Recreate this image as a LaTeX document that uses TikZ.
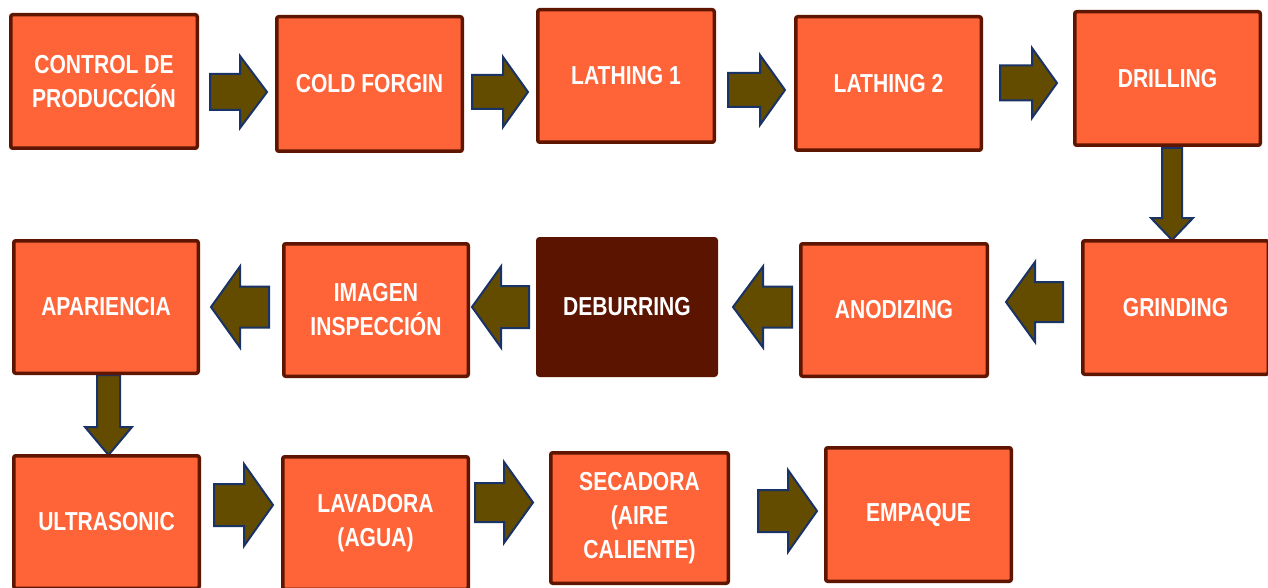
\documentclass[tikz,border=0pt]{standalone}
\usepackage{fontspec}
\setmainfont{Liberation Sans}[FakeStretch=0.81]
\definecolor{boxfill}{HTML}{FF6338}
\definecolor{boxline}{HTML}{5E1600}
\definecolor{darkbox}{HTML}{5A1400}
\definecolor{arrfill}{HTML}{634C00}
\definecolor{arrline}{HTML}{1A3366}
\tikzset{
  procbox/.style={draw=boxline, fill=boxfill, line width=3.5pt, rounded corners=2pt,
    inner sep=0pt, align=center, text=white,
    font=\fontsize{26}{34}\selectfont\bfseries},
  darkproc/.style={procbox, draw=darkbox, fill=darkbox},
  blockarrow/.style={draw=arrline, fill=arrfill, line width=2pt, line join=miter}
}
\newcommand\harr[6]{\draw[blockarrow] (#1,#3-#5) -- (#4,#3-#5) -- (#4,#3-#6) -- (#2,#3) -- (#4,#3+#6) -- (#4,#3+#5) -- (#1,#3+#5) -- cycle;}
\newcommand\varr[6]{\draw[blockarrow] (#1-#5,#2) -- (#1-#5,#4) -- (#1-#6,#4) -- (#1,#3) -- (#1+#6,#4) -- (#1+#5,#4) -- (#1+#5,#2) -- cycle;}
\begin{document}
\begin{tikzpicture}[x=1pt,y=-1pt]
\useasboundingbox (0,0) rectangle (1268,588);
\clip (0,0) rectangle (1268,588);
\fill[white] (0,0) rectangle (1268,588);
% arrows
\harr{210}{267}{92}{240}{18}{36}
\harr{472}{528}{92}{503}{17}{35}
\harr{728}{785}{90}{760}{17}{35}
\harr{1000}{1057}{83}{1032}{17.5}{35}
\varr{1172}{148}{240}{218}{10}{21}
\harr{1063}{1006}{302}{1035}{20}{40}
\harr{792}{733}{307}{763}{20.5}{40.5}
\harr{529}{472}{307}{501}{21}{40.5}
\harr{269}{211}{307}{240}{20.5}{40.5}
\varr{108.5}{375}{455}{427}{11.5}{23.5}
\harr{214}{273}{505}{244}{21}{41}
\harr{475}{533}{502.5}{504}{19.5}{40.5}
\harr{758}{817}{511}{788}{21}{41}
% boxes
\node[procbox, minimum width=186.5pt, minimum height=133.5pt] (ctrl) at (104,81.5) {CONTROL DE\\PRODUCCIÓN};
\node[procbox, minimum width=185.5pt, minimum height=134.5pt] (cold) at (369.5,84) {COLD FORGIN};
\node[procbox, minimum width=176.5pt, minimum height=132.5pt] (lat1) at (626,76) {LATHING 1};
\node[procbox, minimum width=185.5pt, minimum height=133.5pt] (lat2) at (888.5,83.5) {LATHING 2};
\node[procbox, minimum width=185.5pt, minimum height=133.5pt] (drill) at (1167.5,78.5) {DRILLING};
\node[procbox, minimum width=185.5pt, minimum height=133.5pt] (grind) at (1175.5,307.5) {GRINDING};
\node[procbox, minimum width=186.5pt, minimum height=132.5pt] (anod) at (894,310) {ANODIZING};
\node[darkproc, minimum width=178.5pt, minimum height=136.5pt] (debur) at (627,307) {DEBURRING};
\node[procbox, minimum width=184.5pt, minimum height=132.5pt] (imag) at (376,310) {IMAGEN\\INSPECCIÓN};
\node[procbox, minimum width=184.5pt, minimum height=132.5pt] (apar) at (106,307) {APARIENCIA};
\node[procbox, minimum width=185.5pt, minimum height=132.5pt] (ultra) at (106.5,522) {ULTRASONIC};
\node[procbox, minimum width=185.5pt, minimum height=132.5pt] (lava) at (375.5,523) {LAVADORA\\(AGUA)};
\node[procbox, minimum width=177.5pt, minimum height=130.5pt] (seca) at (639.5,518) {SECADORA\\(AIRE\\CALIENTE)};
\node[procbox, minimum width=185.5pt, minimum height=133.5pt] (empa) at (918.5,514.5) {EMPAQUE};
\end{tikzpicture}
\end{document}
